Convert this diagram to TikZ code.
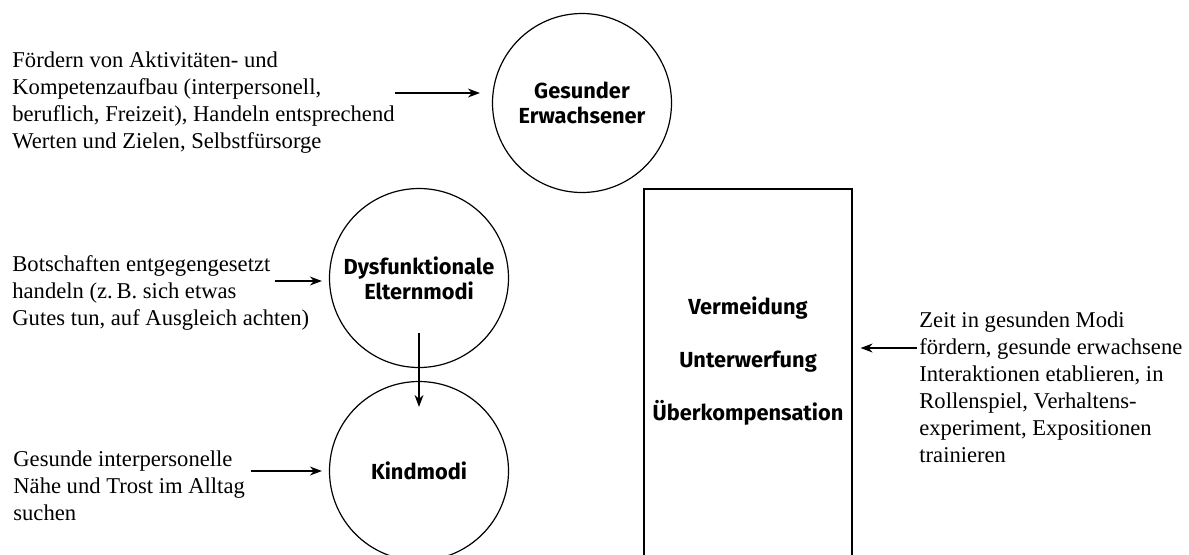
\documentclass[tikz,border=0pt]{standalone}
\usepackage[rgb]{xcolor}
\usepackage{fontspec}
\setmainfont{Liberation Serif}
\setsansfont{Fira Sans}
\usepackage{tikz}
\usetikzlibrary{arrows.meta}

\tikzset{
 modus/.style={draw, circle, line width=0.6pt, minimum size=89.5pt, inner sep=0pt,
   align=center, font=\sffamily\bfseries\fontsize{10.9}{12.5}\selectfont},
 hint/.style={anchor=west, align=left, inner sep=0pt,
   font=\rmfamily\fontsize{11.3}{13.5}\selectfont},
 pfeil/.style={-{Stealth[length=6pt,width=4.5pt]}, line width=0.6pt}
}

\begin{document}
\begin{tikzpicture}[x=0.5pt, y=-0.5pt]

\useasboundingbox (0,0) rectangle (1189,554);
\clip (0,0) rectangle (1189,554);

% the three modes as circles
\node[modus] (healthy) at (582,103) {Gesunder\\Erwachsener};
\node[modus] (parent) at (419,278) {Dysfunktionale\\Elternmodi};
\node[modus] (child) at (419,471) {Kindmodi};

%% coping box, open at the bottom edge
\node[draw, line width=0.6pt, minimum width=104pt, minimum height=210pt, inner sep=0pt]
 (coping) at (748,399) {};
\path
(748,361) node[align=center, font=\sffamily\bfseries\fontsize{10.9}{26.5}\selectfont]
 (copingtext) {Vermeidung\\Unterwerfung\\Überkompensation};

%% notes
\node[hint] (noteadult) at (12,103) {Fördern von Aktivitäten- und\\Kompetenzaufbau (interpersonell,\\beruflich, Freizeit), Handeln entsprechend\\Werten und Zielen, Selbstfürsorge};
\node[hint] (noteparent) at (12,293) {Botschaften entgegengesetzt\\handeln (z.\,B. sich etwas\\Gutes tun, auf Ausgleich achten)};
\node[hint] (notechild) at (13,486) {Gesunde interpersonelle\\Nähe und Trost im Alltag\\suchen};
\node[hint] (notecoping) at (919,387) {Zeit in gesunden Modi\\fördern, gesunde erwachsene\\Interaktionen etablieren, in\\Rollenspiel, Verhaltens-\\experiment, Expositionen\\trainieren};

%% arrows
\coordinate (tailadult) at (395,93);
\coordinate (tailparent) at (275,281);
\coordinate (tailchild) at (251,471);
\coordinate (tailcoping) at (917,348);

\draw[pfeil, shorten >=6pt] (tailadult) -- (healthy.west |- tailadult);
\draw[pfeil, shorten >=3.5pt] (tailparent) -- (parent.west |- tailparent);
\draw[pfeil, shorten >=3.5pt] (tailchild) -- (child.west |- tailchild);
\draw[pfeil, shorten >=4pt] (tailcoping) -- (coping.east |- tailcoping);
\draw[pfeil] ([yshift=17.5pt]parent.south) -- ([yshift=-13pt]child.north);

\end{tikzpicture}
\end{document}
